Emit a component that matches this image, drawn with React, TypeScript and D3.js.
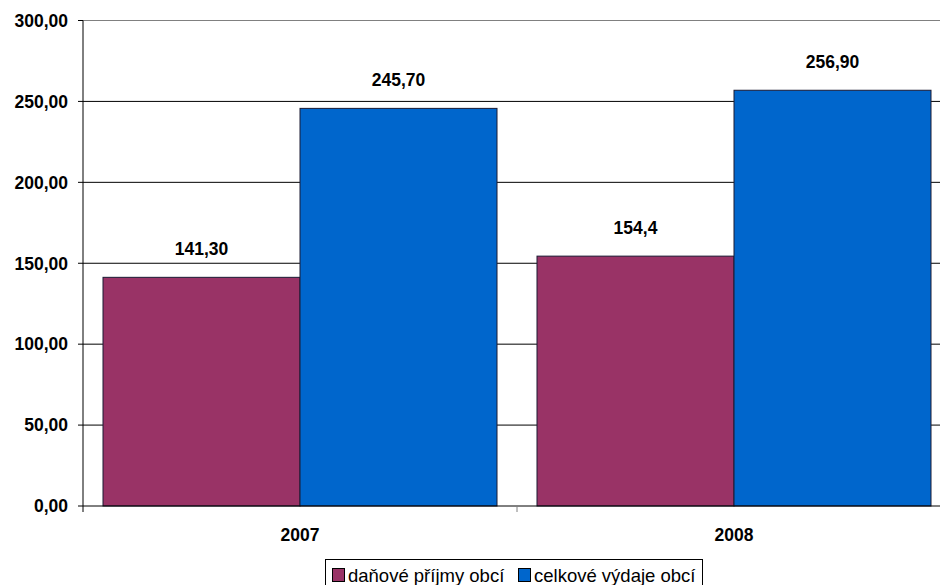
import React from "react";
import * as d3 from "d3";

const categories = ["2007", "2008"];
const seriesNames = ["daňové příjmy obcí", "celkové výdaje obcí"];
const seriesColors = ["#993366", "#0066CC"];
const incomeValues = [141.3, 154.4];
const expenseValues = [245.7, 256.9];
const valueLabels = [["141,30", "154,4"], ["245,70", "256,90"]];
const yTicks = [0, 50, 100, 150, 200, 250, 300];

export default function App() {
  const W = 940, H = 585;
  const left = 83, right = 951, top = 20.5, bottom = 506;
  const x = d3.scaleBand<string>().domain(categories).range([left, right]).paddingInner(0).paddingOuter(0);
  const y = d3.scaleLinear().domain([0, 300]).range([bottom, top]);
  const series = [incomeValues, expenseValues];
  const fmt = (v: number) => v.toFixed(2).replace(".", ",");
  const font = "Arial, 'Liberation Sans', sans-serif";
  const bw = x.bandwidth();
  const groupPad = 20;
  const barW = (bw - 2 * groupPad) / 2;
  const fs = 17.5;
  const legendX = [332.5, 518.5];
  return (
    <svg width={W} height={H} style={{ position: "absolute", left: 0, top: 0 }} fontFamily={font}>
      <rect x={0} y={0} width={W} height={H} fill="#fff" />
      {yTicks.map((t) => (
        <g key={t}>
          {t > 0 && (
            <line x1={left} x2={right} y1={y(t)} y2={y(t)} stroke={t === 300 ? "#808080" : "#000"} strokeWidth={1} />
          )}
          <line x1={left - 5} x2={left} y1={y(t)} y2={y(t)} stroke="#000" />
          <text x={68} y={y(t)} dy="0.36em" textAnchor="end" fontSize={fs} fontWeight="bold">{fmt(t)}</text>
        </g>
      ))}
      {categories.map((c, i) =>
        series.map((vals, s) => {
          const bx = (x(c) as number) + groupPad + s * barW;
          const by = y(vals[i]);
          return (
            <g key={c + s}>
              <rect x={bx} y={by} width={barW} height={bottom - by} fill={seriesColors[s]} stroke="#1a1a33" strokeWidth={1} />
              <text x={bx + barW / 2} y={by - 22} textAnchor="middle" fontSize={fs} fontWeight="bold">{valueLabels[s][i]}</text>
            </g>
          );
        })
      )}
      <line x1={left} x2={left} y1={top} y2={bottom} stroke="#000" />
      <line x1={left} x2={right} y1={bottom} y2={bottom} stroke="#000" />
      {[left + bw, right].map((tx, i) => (
        <line key={i} x1={tx} x2={tx} y1={bottom} y2={bottom + 6} stroke="#808080" />
      ))}
      <line x1={left} x2={left} y1={bottom} y2={bottom + 6} stroke="#000" />
      {categories.map((c) => (
        <text key={c} x={(x(c) as number) + bw / 2} y={541} textAnchor="middle" fontSize={fs} fontWeight="bold">{c}</text>
      ))}
      <g>
        <rect x={325.5} y={559.5} width={377} height={32} fill="#fff" stroke="#000" />
        {seriesNames.map((n, i) => (
          <g key={n}>
            <rect x={legendX[i]} y={568.5} width={12} height={13} fill={seriesColors[i]} stroke="#000" />
            <text x={legendX[i] + 15.5} y={582} fontSize={18.5}>{n}</text>
          </g>
        ))}
      </g>
    </svg>
  );
}
